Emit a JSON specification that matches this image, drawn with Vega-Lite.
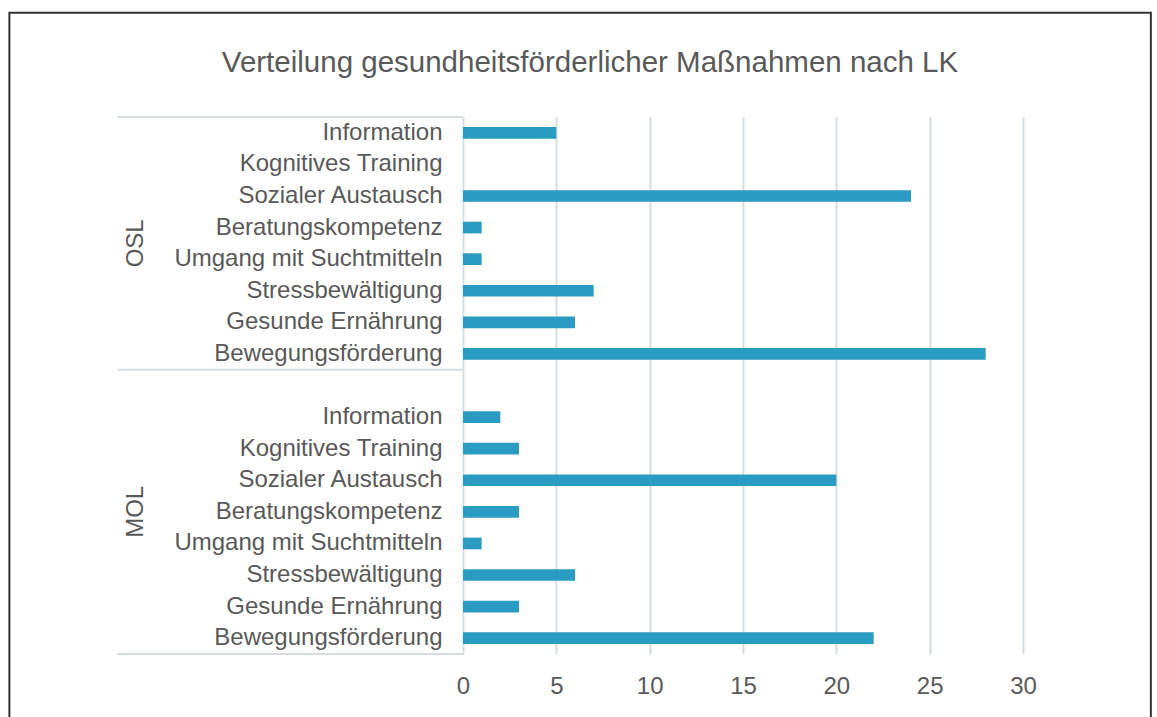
{
  "$schema": "https://vega.github.io/schema/vega-lite/v6.json",
  "autosize": {"type": "none"},
  "width": 560,
  "height": 537,
  "padding": {"left": 463, "top": 117, "right": 134, "bottom": 63},
  "background": "white",
  "title": {
    "text": "Verteilung gesundheitsförderlicher Maßnahmen nach LK",
    "fontSize": 29.5,
    "fontWeight": "normal",
    "color": "#595959",
    "anchor": "middle",
    "frame": "group",
    "dx": -153,
    "offset": -67,
    "font": "Liberation Sans"
  },
  "config": {
    "view": {"stroke": null},
    "font": "Liberation Sans"
  },
  "datasets": {
    "massnahmen": [
      {"kategorie": "OSL|Information", "anzahl": 5},
      {"kategorie": "OSL|Kognitives Training", "anzahl": 0},
      {"kategorie": "OSL|Sozialer Austausch", "anzahl": 24},
      {"kategorie": "OSL|Beratungskompetenz", "anzahl": 1},
      {"kategorie": "OSL|Umgang mit Suchtmitteln", "anzahl": 1},
      {"kategorie": "OSL|Stressbewältigung", "anzahl": 7},
      {"kategorie": "OSL|Gesunde Ernährung", "anzahl": 6},
      {"kategorie": "OSL|Bewegungsförderung", "anzahl": 28},
      {"kategorie": "MOL|Information", "anzahl": 2},
      {"kategorie": "MOL|Kognitives Training", "anzahl": 3},
      {"kategorie": "MOL|Sozialer Austausch", "anzahl": 20},
      {"kategorie": "MOL|Beratungskompetenz", "anzahl": 3},
      {"kategorie": "MOL|Umgang mit Suchtmitteln", "anzahl": 1},
      {"kategorie": "MOL|Stressbewältigung", "anzahl": 6},
      {"kategorie": "MOL|Gesunde Ernährung", "anzahl": 3},
      {"kategorie": "MOL|Bewegungsförderung", "anzahl": 22}
    ],
    "eins": [{"n": 1}]
  },
  "resolve": {"scale": {"y": "independent"}, "axis": {"y": "independent"}},
  "layer": [
    {
      "layer": [
        {
          "data": {"name": "massnahmen"},
          "mark": {"type": "bar", "color": "#2a9bc2", "height": {"band": 0.37}},
          "encoding": {
            "y": {
              "field": "kategorie",
              "type": "nominal",
              "sort": null,
              "scale": {
                "domain": [
                  "OSL|Information", "OSL|Kognitives Training", "OSL|Sozialer Austausch", "OSL|Beratungskompetenz",
                  "OSL|Umgang mit Suchtmitteln", "OSL|Stressbewältigung", "OSL|Gesunde Ernährung", "OSL|Bewegungsförderung",
                  "gap",
                  "MOL|Information", "MOL|Kognitives Training", "MOL|Sozialer Austausch", "MOL|Beratungskompetenz",
                  "MOL|Umgang mit Suchtmitteln", "MOL|Stressbewältigung", "MOL|Gesunde Ernährung", "MOL|Bewegungsförderung"
                ],
                "paddingInner": 0,
                "paddingOuter": 0
              },
              "axis": {
                "title": null,
                "domain": false,
                "ticks": false,
                "labelPadding": 21,
                "labelFontSize": 24,
                "labelLimit": 500,
                "labelColor": "#595959",
                "labelFont": "Liberation Sans",
                "labelExpr": "indexof(datum.value, '|') > 0 ? split(datum.value, '|')[1] : ''"
              }
            },
            "x": {
              "field": "anzahl",
              "type": "quantitative",
              "scale": {"domain": [0, 30], "nice": false},
              "axis": {
                "title": null,
                "values": [0, 5, 10, 15, 20, 25, 30],
                "domain": false,
                "ticks": false,
                "grid": true,
                "gridColor": "#d6dde2",
                "gridWidth": 2,
                "labelFlush": false,
                "labelPadding": 20,
                "labelFontSize": 24,
                "labelColor": "#595959",
                "labelFont": "Liberation Sans"
              }
            }
          }
        },
        {
          "data": {"name": "eins"},
          "mark": {"type": "rule", "color": "#d6dde2", "strokeWidth": 2},
          "encoding": {
            "y": {"datum": "OSL|Information", "type": "nominal", "bandPosition": 0},
            "x": {"datum": -18.5, "type": "quantitative"},
            "x2": {"datum": 0}
          }
        },
        {
          "data": {"name": "eins"},
          "mark": {"type": "rule", "color": "#d6dde2", "strokeWidth": 2},
          "encoding": {
            "y": {"datum": "gap", "type": "nominal", "bandPosition": 0},
            "x": {"datum": -18.5, "type": "quantitative"},
            "x2": {"datum": 0}
          }
        },
        {
          "data": {"name": "eins"},
          "mark": {"type": "rule", "color": "#d6dde2", "strokeWidth": 2},
          "encoding": {
            "y": {"datum": "MOL|Bewegungsförderung", "type": "nominal", "bandPosition": 1},
            "x": {"datum": -18.5, "type": "quantitative"},
            "x2": {"datum": 0}
          }
        },
        {
          "data": {"name": "eins"},
          "mark": {"type": "text", "angle": 270, "align": "center", "baseline": "middle", "fontSize": 24, "color": "#595959", "font": "Liberation Sans"},
          "encoding": {
            "y": {"datum": "OSL|Beratungskompetenz", "type": "nominal", "bandPosition": 1},
            "x": {"datum": -17.5, "type": "quantitative"},
            "text": {"value": "OSL"}
          }
        },
        {
          "data": {"name": "eins"},
          "mark": {"type": "text", "angle": 270, "align": "center", "baseline": "middle", "fontSize": 24, "color": "#595959", "font": "Liberation Sans"},
          "encoding": {
            "y": {"datum": "MOL|Beratungskompetenz", "type": "nominal", "bandPosition": 0.5},
            "x": {"datum": -17.5, "type": "quantitative"},
            "text": {"value": "MOL"}
          }
        }
      ]
    },
    {
      "data": {"name": "eins"},
      "mark": {"type": "rect", "filled": false, "stroke": "#333333", "strokeWidth": 2},
      "encoding": {
        "x": {"datum": -24.3, "type": "quantitative"},
        "x2": {"datum": 36.85},
        "y": {"datum": 1.194, "type": "quantitative", "scale": {"domain": [0, 1], "nice": false, "zero": false}, "axis": null},
        "y2": {"datum": -0.2}
      }
    }
  ]
}
